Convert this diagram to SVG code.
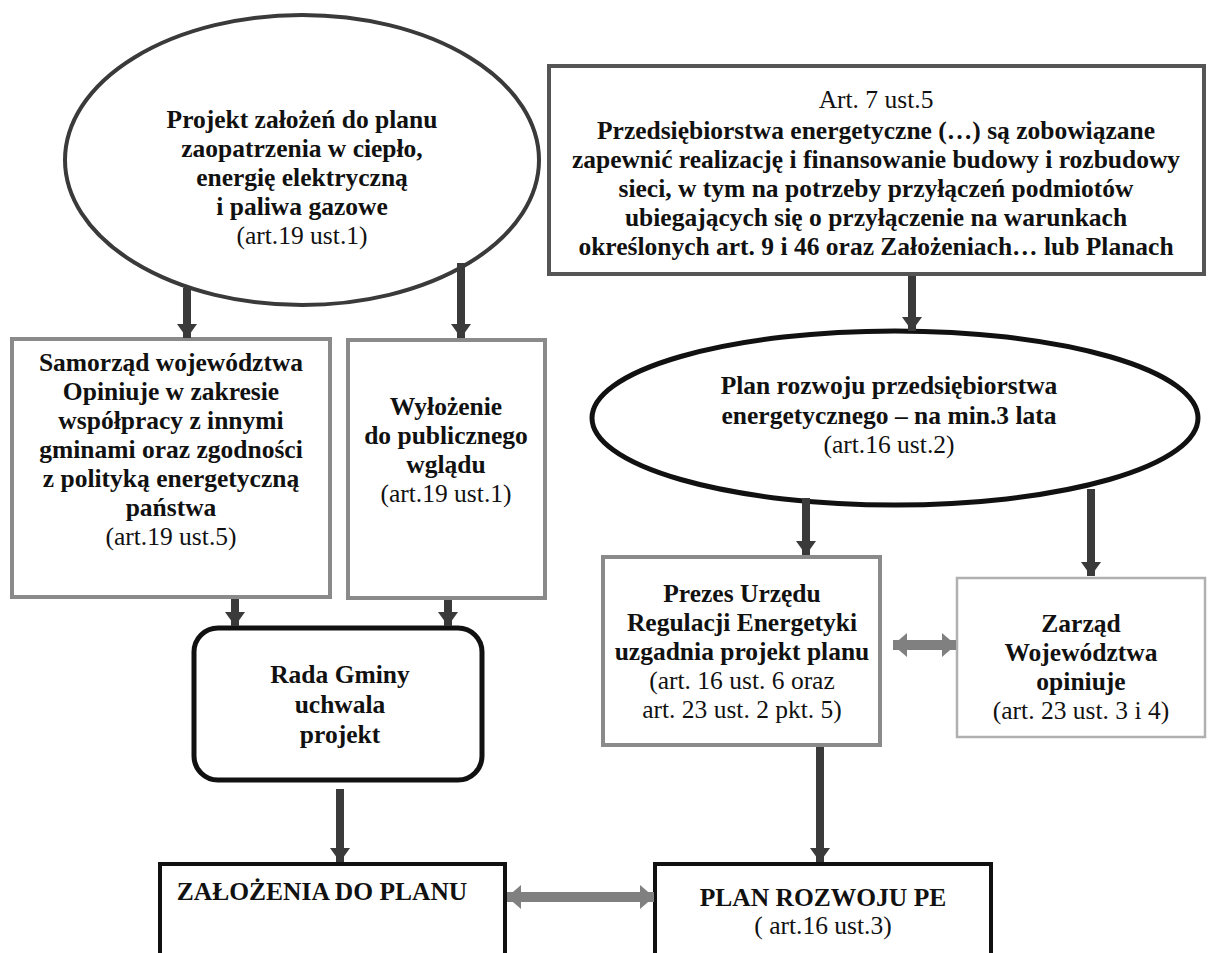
<svg xmlns="http://www.w3.org/2000/svg" width="1213" height="953" viewBox="0 0 1213 953">
<style>
text{font-family:"Liberation Serif","Tinos","Times New Roman","DejaVu Serif",serif;font-size:25.5px;fill:#111;text-anchor:middle}
.b{font-weight:bold}
.gbox{fill:#fff;stroke:#8a8a8a;stroke-width:4}
.lbox{fill:#fff;stroke:#b0b0b0;stroke-width:2.5}
.kbox{fill:#fff;stroke:#111;stroke-width:4}
.arr{stroke:#3a3a3a;stroke-width:8;fill:none;marker-end:url(#ah)}
.dbl{stroke:#808080;stroke-width:10;fill:none;marker-end:url(#dh);marker-start:url(#dh)}
</style>
<defs>
<marker id="ah" viewBox="0 0 14 20" refX="14" refY="10" markerWidth="14" markerHeight="20" orient="auto" markerUnits="userSpaceOnUse"><path d="M0,0 L14,10 L0,20 z" fill="#3a3a3a"/></marker>
<marker id="dh" viewBox="0 0 14 24" refX="14" refY="12" markerWidth="14" markerHeight="24" orient="auto-start-reverse" markerUnits="userSpaceOnUse"><path d="M0,0 L14,12 L0,24 z" fill="#808080"/></marker>
</defs>
<rect width="1213" height="953" fill="#fff"/>

<g id="n-projekt">
<ellipse cx="302" cy="160" rx="237" ry="145" fill="#fff" stroke="#3a3a3a" stroke-width="4"/>
<text class="b" x="302" y="128">Projekt założeń do planu</text>
<text class="b" x="302" y="157">zaopatrzenia w ciepło,</text>
<text class="b" x="302" y="186">energię elektryczną</text>
<text class="b" x="302" y="215">i paliwa gazowe</text>
<text x="302" y="244">(art.19 ust.1)</text>
</g>

<g id="n-art7">
<rect x="549" y="66" width="655" height="208" fill="#fff" stroke="#555" stroke-width="4"/>
<text x="876" y="108">Art. 7 ust.5</text>
<text class="b" x="876" y="139">Przedsiębiorstwa energetyczne (…) są zobowiązane</text>
<text class="b" x="876" y="168">zapewnić realizację i finansowanie budowy i rozbudowy</text>
<text class="b" x="876" y="197">sieci, w tym na potrzeby przyłączeń podmiotów</text>
<text class="b" x="876" y="226">ubiegających się o przyłączenie na warunkach</text>
<text class="b" x="876" y="255">określonych art. 9 i 46 oraz Założeniach… lub Planach</text>
</g>

<g id="n-samorzad">
<rect class="gbox" x="12" y="339" width="318" height="258"/>
<text class="b" x="171" y="371">Samorząd województwa</text>
<text class="b" x="171" y="400">Opiniuje w zakresie</text>
<text class="b" x="171" y="429">współpracy z innymi</text>
<text class="b" x="171" y="458">gminami oraz zgodności</text>
<text class="b" x="171" y="487">z polityką energetyczną</text>
<text class="b" x="171" y="516">państwa</text>
<text x="171" y="545">(art.19 ust.5)</text>
</g>

<g id="n-wylozenie">
<rect class="gbox" x="348" y="340" width="197" height="258"/>
<text class="b" x="446" y="415">Wyłożenie</text>
<text class="b" x="446" y="444">do publicznego</text>
<text class="b" x="446" y="473">wglądu</text>
<text x="446" y="502">(art.19 ust.1)</text>
</g>

<g id="n-planrozwoju">
<ellipse cx="895" cy="418" rx="303" ry="87" fill="#fff" stroke="#111" stroke-width="5"/>
<text class="b" x="889" y="394">Plan rozwoju przedsiębiorstwa</text>
<text class="b" x="889" y="424">energetycznego – na min.3 lata</text>
<text x="889" y="453">(art.16 ust.2)</text>
</g>

<g id="n-prezes">
<rect class="gbox" x="603" y="557" width="277" height="188"/>
<text class="b" x="742" y="602">Prezes Urzędu</text>
<text class="b" x="742" y="631">Regulacji Energetyki</text>
<text class="b" x="742" y="660">uzgadnia projekt planu</text>
<text x="742" y="689">(art. 16 ust. 6 oraz</text>
<text x="742" y="718">art. 23 ust. 2 pkt. 5)</text>
</g>

<g id="n-zarzad">
<rect class="lbox" x="957" y="578" width="248" height="159"/>
<text class="b" x="1081" y="632">Zarząd</text>
<text class="b" x="1081" y="661">Województwa</text>
<text class="b" x="1081" y="690">opiniuje</text>
<text x="1081" y="719">(art. 23 ust. 3 i 4)</text>
</g>

<g id="n-rada">
<rect x="194" y="628" width="288" height="152" rx="24" fill="#fff" stroke="#111" stroke-width="5"/>
<text class="b" x="340" y="683">Rada Gminy</text>
<text class="b" x="340" y="713">uchwala</text>
<text class="b" x="340" y="743">projekt</text>
</g>

<g id="n-zalozenia">
<rect class="kbox" x="160" y="864" width="345" height="110"/>
<text class="b" x="322" y="900">ZAŁOŻENIA DO PLANU</text>
</g>

<g id="n-planpe">
<rect class="kbox" x="655" y="864" width="336" height="110"/>
<text class="b" x="823" y="906">PLAN ROZWOJU PE</text>
<text x="823" y="934">( art.16 ust.3)</text>
</g>

<g id="connectors">
<line class="arr" x1="187" y1="288" x2="187" y2="338"/>
<line class="arr" x1="461" y1="263" x2="461" y2="338"/>
<line class="arr" x1="912" y1="276" x2="912" y2="331"/>
<line class="arr" x1="806" y1="498" x2="806" y2="555"/>
<line class="arr" x1="1091" y1="489" x2="1091" y2="576"/>
<line class="arr" x1="235" y1="599" x2="235" y2="626"/>
<line class="arr" x1="448" y1="600" x2="448" y2="626"/>
<line class="arr" x1="340" y1="789" x2="340" y2="862"/>
<line class="arr" x1="820" y1="747" x2="820" y2="862"/>
<line class="dbl" x1="893" y1="645" x2="956" y2="645"/>
<line class="dbl" x1="507" y1="897" x2="654" y2="897"/>
</g>
</svg>
